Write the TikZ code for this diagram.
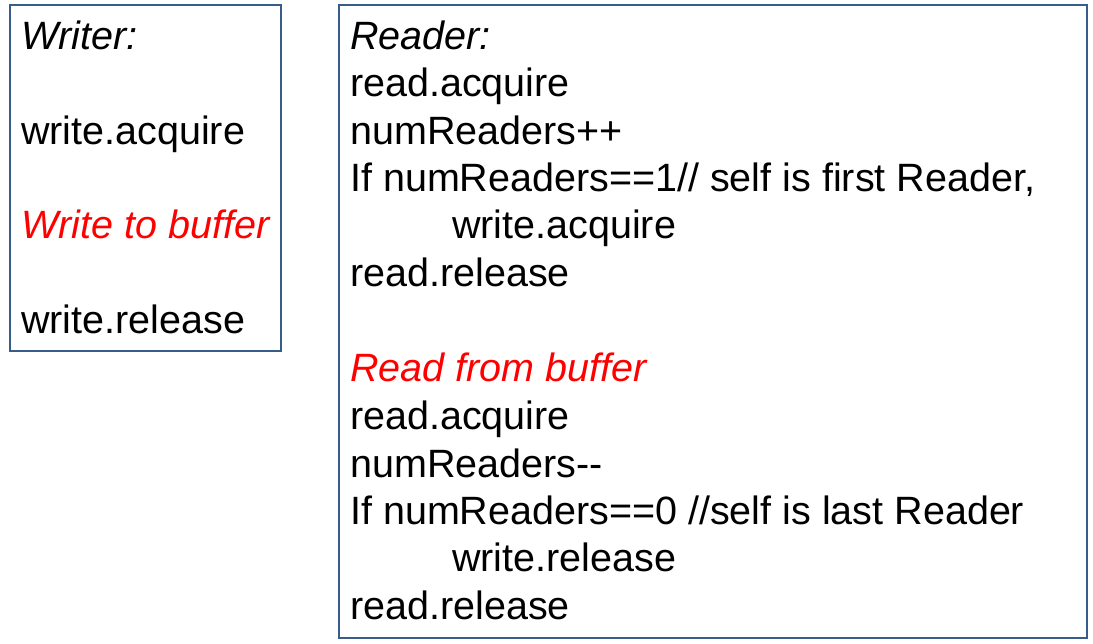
\documentclass[tikz,border=0pt]{standalone}
\usepackage{fontspec}
\setmainfont{Liberation Sans}
\definecolor{boxblue}{RGB}{56,93,138}
\definecolor{hired}{RGB}{255,0,0}
\begin{document}
\begin{tikzpicture}[x=1pt,y=-1pt,
  frame/.style={draw=boxblue,line width=1.6pt,fill=white},
  ln/.style={anchor=base west,inner sep=0pt,font=\fontsize{39.5}{47.4}\selectfont},
  hl/.style={ln,text=hired,font=\fontsize{39.5}{47.4}\selectfont\itshape}]
\useasboundingbox (0,0) rectangle (1093,644);
\draw[frame] (10,5) rectangle (281,351);
\draw[frame] (339,5) rectangle (1087,638);
% Writer
\node[ln,font=\fontsize{39.5}{47.4}\selectfont\itshape] (w1) at (21,50) {Writer:};
\node[ln] (w2) at (21,145) {write.acquire};
\node[hl] (w3) at (21,239) {Write to buffer};
\node[ln] (w4) at (21,334) {write.release};
% Reader
\node[ln,font=\fontsize{39.5}{47.4}\selectfont\itshape] (r1) at (350,50) {Reader:};
\node[ln] (r2) at (350,97) {read.acquire};
\node[ln] (r3) at (350,145) {numReaders++};
\node[ln] (r4) at (350,192) {If numReaders==1// self is first Reader,};
\node[ln] (r5) at (452,239) {write.acquire};
\node[ln] (r6) at (350,287) {read.release};
\node[hl] (r7) at (350,382) {Read from buffer};
\node[ln] (r8) at (350,429) {read.acquire};
\node[ln] (r9) at (350,477) {numReaders{-}{-}};
\node[ln] (r10) at (350,524) {If numReaders==0 //self is last Reader};
\node[ln] (r11) at (452,571) {write.release};
\node[ln] (r12) at (350,619) {read.release};
\end{tikzpicture}
\end{document}
